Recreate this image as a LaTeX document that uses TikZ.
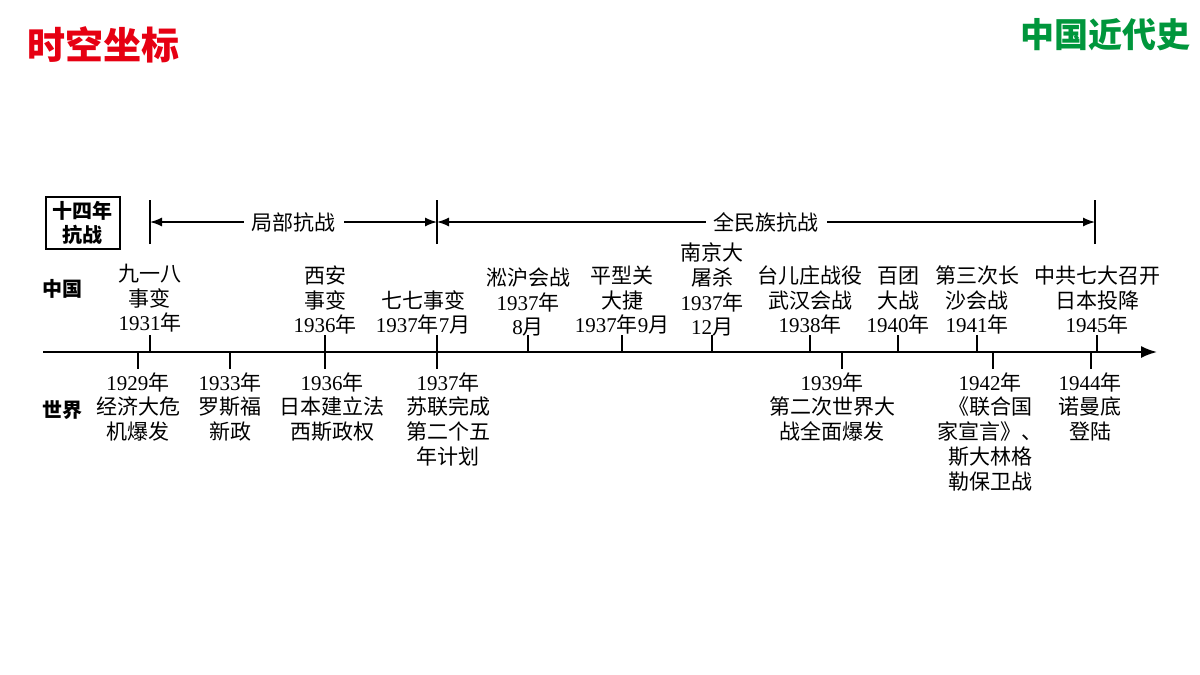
\documentclass[tikz,border=0pt]{standalone}
\usepackage{fontspec}
\setmainfont{Noto Sans CJK SC}
\newfontfamily\tnr{Liberation Serif}
\usetikzlibrary{arrows.meta,positioning}
\definecolor{titlered}{RGB}{230,0,18}
\definecolor{titlegreen}{RGB}{0,150,60}
\newcommand{\nm}[1]{{\tnr #1}}
\begin{document}
\begin{tikzpicture}
			[x=0.5pt, y=-0.5pt, font=\fontsize{10.5}{12.4}\selectfont,
				% STYLES
				% upper labels sit on the axis
				upper/.style={anchor=south, align=center, inner sep=0pt},
				% lower labels hang below the axis
				lower/.style={anchor=north, align=center, inner sep=0pt},
				tick/.style={line width=0.7pt},
				period/.style={{Latex[length=6pt,width=4.5pt]}-{Latex[length=6pt,width=4.5pt]}, line width=0.7pt}]

			\useasboundingbox (0,0) rectangle (1200,675);

			% Titles
			\node [font=\fontsize{19}{22}\selectfont\bfseries, text=titlered, anchor=west] (title) at (20,45) {时空坐标};
			\node [font=\fontsize{17}{20}\selectfont\bfseries, text=titlegreen, anchor=east] (book) at (1198,35) {中国近代史};

			% Periods
			\node [draw, line width=0.6pt, align=center, inner sep=2pt, minimum width=37pt, minimum height=26pt, font=\fontsize{10}{12}\selectfont\bfseries] (war) at (83,223) {十四年\\抗战};
			\coordinate (p1) at (150,222);
			\coordinate (p2) at (437,222);
			\coordinate (p3) at (1095,222);
			\foreach \p in {p1,p2,p3}
				\draw [line width=0.7pt] ([yshift=-11pt]\p) -- ([yshift=11pt]\p);
			\draw [period] (p1) -- node [fill=white, inner xsep=4pt, font=\fontsize{10.5}{12}\selectfont] (local) {局部抗战} (p2);
			\draw [period] (p2) -- node [fill=white, inner xsep=4pt, font=\fontsize{10.5}{12}\selectfont] (whole) {全民族抗战} (p3);

			\node [font=\fontsize{10}{12}\selectfont\bfseries] (china) at (62,289) {中国};
			\node [font=\fontsize{10}{12}\selectfont\bfseries] (world) at (62,410) {世界};

			% Axis
			\coordinate (s) at (43,352);
			\coordinate (t) at (1157,352);
			\draw [line width=0.9pt, -{Latex[length=8pt,width=6pt]}] (s) -- (t);

			% Ticks above
			\foreach \x in {150,325,437,528,622,712,810,898,977,1097}
				\draw [tick] (\x,352) -- (\x,335);
			% Ticks below
			\foreach \x in {138,230,325,437,842,993,1091}
				\draw [tick] (\x,352) -- (\x,369);

			%%%%%%%%%%%%%%%
			% CHINA
			\node [upper] (a1) at (150,333) {九一八\\事变\\\nm{1931}年};
			\node [upper] (a2) at (325,335) {西安\\事变\\\nm{1936}年};
			\node [upper] (a3) at (423,335) {七七事变\\\nm{1937}年\nm{7}月};
			\node [upper] (a4) at (528,337) {淞沪会战\\\nm{1937}年\\\nm{8}月};
			\node [upper] (a5) at (622,335) {平型关\\大捷\\\nm{1937}年\nm{9}月};
			\node [upper] (a6) at (712,337) {南京大\\屠杀\\\nm{1937}年\\\nm{12}月};
			\node [upper] (a7) at (810,335) {台儿庄战役\\武汉会战\\\nm{1938}年};
			\node [upper] (a8) at (898,335) {百团\\大战\\\nm{1940}年};
			\node [upper] (a9) at (977,335) {第三次长\\沙会战\\\nm{1941}年};
			\node [upper] (a10) at (1097,335) {中共七大召开\\日本投降\\\nm{1945}年};

			% WORLD
			\node [lower] (b1) at (138,372) {\nm{1929}年\\经济大危\\机爆发};
			\node [lower] (b2) at (230,372) {\nm{1933}年\\罗斯福\\新政};
			\node [lower] (b3) at (332,372) {\nm{1936}年\\日本建立法\\西斯政权};
			\node [lower] (b4) at (448,372) {\nm{1937}年\\苏联完成\\第二个五\\年计划};
			\node [lower] (b5) at (832,372) {\nm{1939}年\\第二次世界大\\战全面爆发};
			\node [lower] (b6) at (990,372) {\nm{1942}年\\《联合国\\家宣言》、\\斯大林格\\勒保卫战};
			\node [lower] (b7) at (1090,372) {\nm{1944}年\\诺曼底\\登陆};

		\end{tikzpicture}
\end{document}
